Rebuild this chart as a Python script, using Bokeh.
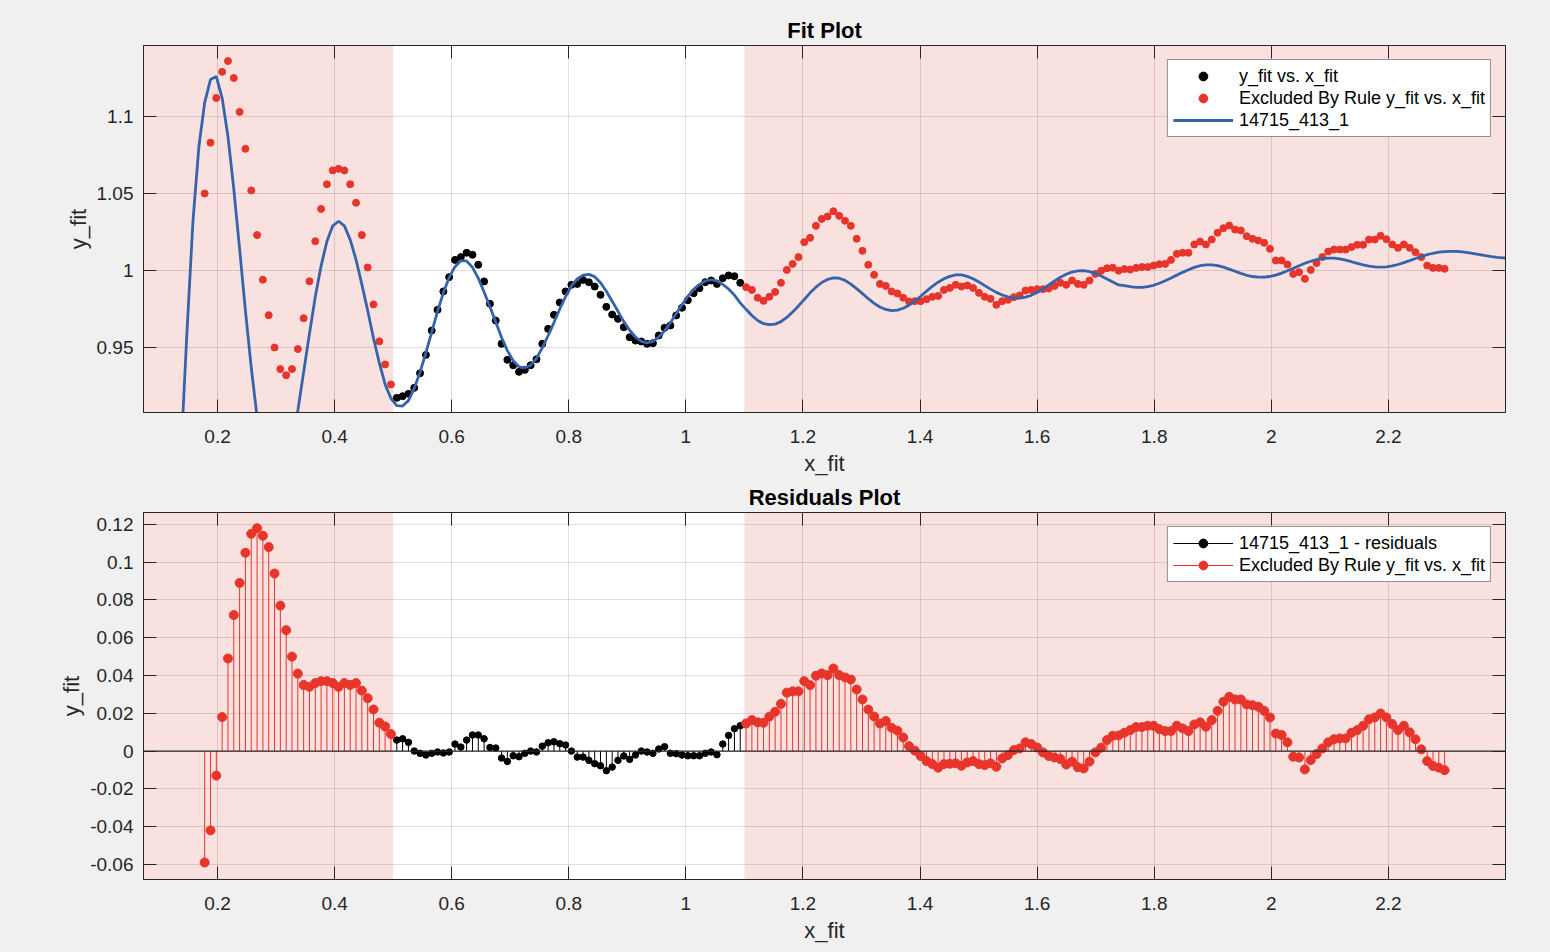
import numpy as np
from bokeh.plotting import figure
from bokeh.layouts import column
from bokeh.models import (Range1d, FixedTicker, LinearAxis, BoxAnnotation, Span,
                          Legend, LegendItem, CustomJSTickFormatter)
from bokeh.embed import file_html
from bokeh.resources import INLINE

# measured x positions (evenly sampled)
x_fit = np.linspace(0.178, 2.296, 214)

y_fit = [
    1.050, 1.083, 1.112, 1.129, 1.136, 1.125, 1.103, 1.079, 1.052, 1.023,
    0.994, 0.971, 0.950, 0.936, 0.932, 0.936, 0.949, 0.969, 0.993, 1.019,
    1.040, 1.056, 1.065, 1.066, 1.065, 1.056, 1.044, 1.023, 1.002, 0.978,
    0.954, 0.939, 0.926,
    0.9173, 0.9184, 0.9199, 0.9238, 0.9333, 0.9452, 0.9610, 0.9745, 0.9864, 0.9957,
    1.0069, 1.0087, 1.0115, 1.0102, 1.0037, 0.9929, 0.9784, 0.9675, 0.9524, 0.9420,
    0.9385, 0.9342, 0.9355, 0.9385, 0.9424, 0.9524, 0.9621, 0.9712, 0.9792, 0.9864,
    0.9907, 0.9913, 0.9939, 0.9924, 0.9896, 0.9842, 0.9764, 0.9714, 0.9686, 0.9632,
    0.9567, 0.9545, 0.9539, 0.9524, 0.9528, 0.9578, 0.9628, 0.9643, 0.9708, 0.9758,
    0.9807, 0.9853, 0.9885, 0.9924, 0.9935, 0.9913, 0.9950, 0.9968, 0.9963, 0.9920,
    0.9892, 0.9874, 0.9823, 0.9803, 0.9829, 0.9861, 0.9920, 1.0004, 1.0043, 1.0087,
    1.0184, 1.0212, 1.0290, 1.0335, 1.0351, 1.0385, 1.0355, 1.0323, 1.0290, 1.0206,
    1.0128, 1.0037, 0.9972, 0.9913, 0.9900, 0.9864, 0.9851, 0.9823, 0.9799, 0.9801,
    0.9801, 0.9814, 0.9829, 0.9835, 0.9874, 0.9887, 0.9907, 0.9896, 0.9903, 0.9887,
    0.9855, 0.9829, 0.9816, 0.9777, 0.9801, 0.9810, 0.9827, 0.9838, 0.9870, 0.9874,
    0.9879, 0.9879, 0.9883, 0.9900, 0.9920, 0.9907, 0.9935, 0.9913, 0.9907, 0.9935,
    0.9978, 0.9998, 1.0015, 1.0018, 0.9999,
    1.0009, 1.0006, 1.0017, 1.0022, 1.0022, 1.0032, 1.0041, 1.0043, 1.0069, 1.0108,
    1.0115, 1.0115, 1.0169, 1.0188, 1.0169, 1.0201, 1.0245, 1.0275, 1.0292, 1.0266,
    1.0260, 1.0223, 1.0206, 1.0195, 1.0180, 1.0141, 1.0065, 1.0065, 1.0039, 0.9978,
    0.9989, 0.9946, 1.0004, 1.0048, 1.0087, 1.0123, 1.0136, 1.0136, 1.0136, 1.0152,
    1.0167, 1.0167, 1.0201, 1.0201, 1.0225, 1.0203, 1.0169, 1.0147, 1.0169, 1.0147,
    1.0119, 1.0087, 1.0032, 1.0017, 1.0017, 1.0011,
]

residuals = [
    -0.059, -0.042, -0.013, 0.018, 0.049, 0.072, 0.089, 0.105, 0.115, 0.118,
    0.114, 0.108, 0.094, 0.077, 0.064, 0.050, 0.041, 0.035, 0.034, 0.036,
    0.037, 0.037, 0.036, 0.034, 0.036, 0.035, 0.036, 0.032, 0.028, 0.022,
    0.015, 0.013, 0.009,
    0.0058, 0.0065, 0.0046, 0.0000, -0.0012, -0.0021, -0.0012, -0.0005, -0.0010, -0.0005,
    0.0037, 0.0021, 0.0058, 0.0085, 0.0085, 0.0065, 0.0019, 0.0016, -0.0037, -0.0055,
    -0.0025, -0.0030, -0.0012, 0.0000, -0.0005, 0.0026, 0.0044, 0.0049, 0.0039, 0.0032,
    0.0000, -0.0032, -0.0032, -0.0049, -0.0067, -0.0078, -0.0104, -0.0085, -0.0049, -0.0026,
    -0.0044, -0.0021, 0.0000, -0.0005, -0.0012, 0.0011, 0.0023, -0.0012, -0.0014, -0.0021,
    -0.0025, -0.0025, -0.0025, -0.0012, -0.0005, -0.0019, 0.0037, 0.0083, 0.0118, 0.0134,
    0.0146, 0.0164, 0.0152, 0.0150, 0.0182, 0.0208, 0.0250, 0.0309, 0.0316, 0.0316,
    0.0370, 0.0349, 0.0399, 0.0411, 0.0402, 0.0437, 0.0402, 0.0390, 0.0379, 0.0326,
    0.0273, 0.0220, 0.0183, 0.0146, 0.0159, 0.0123, 0.0108, 0.0072, 0.0026, 0.0002,
    -0.0026, -0.0053, -0.0069, -0.0088, -0.0069, -0.0067, -0.0065, -0.0078, -0.0060, -0.0053,
    -0.0069, -0.0074, -0.0065, -0.0083, -0.0039, -0.0021, 0.0005, 0.0014, 0.0046, 0.0037,
    0.0019, -0.0007, -0.0026, -0.0034, -0.0042, -0.0071, -0.0056, -0.0086, -0.0092, -0.0056,
    -0.0007, 0.0018, 0.0058, 0.0081, 0.0083,
    0.0097, 0.0111, 0.0127, 0.0127, 0.0134, 0.0134, 0.0116, 0.0106, 0.0106, 0.0134,
    0.0120, 0.0106, 0.0141, 0.0152, 0.0129, 0.0164, 0.0213, 0.0261, 0.0287, 0.0273,
    0.0273, 0.0247, 0.0243, 0.0235, 0.0213, 0.0178, 0.0093, 0.0085, 0.0046, -0.0030,
    -0.0034, -0.0097, -0.0048, -0.0016, 0.0014, 0.0046, 0.0063, 0.0067, 0.0067, 0.0097,
    0.0111, 0.0134, 0.0168, 0.0178, 0.0199, 0.0178, 0.0143, 0.0111, 0.0134, 0.0099,
    0.0062, 0.0009, -0.0053, -0.0079, -0.0088, -0.0101,
]

# fitted curve 14715_413_1, at the measured x plus a little beyond both ends
fit_curve = [
    1.109, 1.124, 1.126, 1.112, 1.087, 1.053, 1.014, 0.974, 0.937, 0.905,
    0.880, 0.864, 0.856, 0.858, 0.869, 0.887, 0.909, 0.934, 0.959, 0.983,
    1.003, 1.019, 1.029, 1.032, 1.029, 1.020, 1.007, 0.991, 0.974, 0.956,
    0.940, 0.926, 0.917,
    0.9122, 0.9120, 0.9155, 0.9235, 0.9340, 0.9465, 0.9600, 0.9735, 0.9855, 0.9955,
    1.0025, 1.0063, 1.0062, 1.0020, 0.9950, 0.9860, 0.9765, 0.9665, 0.9565, 0.9480,
    0.9415, 0.9375, 0.9368, 0.9385, 0.9430, 0.9498, 0.9578, 0.9662, 0.9750, 0.9830,
    0.9900, 0.9945, 0.9970, 0.9975, 0.9960, 0.9920, 0.9865, 0.9800, 0.9735, 0.9668,
    0.9612, 0.9568, 0.9540, 0.9530, 0.9540, 0.9567, 0.9608, 0.9660, 0.9720, 0.9778,
    0.9832, 0.9878, 0.9910, 0.9932, 0.9940, 0.9932, 0.9910, 0.9880, 0.9840, 0.9790,
    0.9748, 0.9708, 0.9675, 0.9655, 0.9648, 0.9652, 0.9668, 0.9695, 0.9730, 0.9770,
    0.9812, 0.9855, 0.9892, 0.9922, 0.9942, 0.9952, 0.9950, 0.9936, 0.9912, 0.9882,
    0.9850, 0.9817, 0.9787, 0.9763, 0.9747, 0.9740, 0.9743, 0.9755, 0.9775, 0.9802,
    0.9833, 0.9866, 0.9897, 0.9924, 0.9946, 0.9962, 0.9971, 0.9971, 0.9962, 0.9946,
    0.9925, 0.9902, 0.9879, 0.9858, 0.9841, 0.9829, 0.9822, 0.9821, 0.9827, 0.9839,
    0.9857, 0.9880, 0.9906, 0.9932, 0.9956, 0.9976, 0.9990, 0.9998, 0.9999, 0.9993,
    0.9981, 0.9964, 0.9945, 0.9925, 0.9906,
    0.9902, 0.9895, 0.9891, 0.9891, 0.9895, 0.9904, 0.9917, 0.9933, 0.9951, 0.9970,
    0.9988, 1.0005, 1.0020, 1.0031, 1.0037, 1.0037, 1.0032, 1.0022, 1.0009, 0.9995,
    0.9981, 0.9969, 0.9961, 0.9957, 0.9957, 0.9961, 0.9970, 0.9983, 0.9998, 1.0014,
    1.0031, 1.0047, 1.0060, 1.0071, 1.0078, 1.0081, 1.0080, 1.0075, 1.0067, 1.0057,
    1.0046, 1.0036, 1.0028, 1.0023, 1.0022, 1.0024, 1.0030, 1.0039, 1.0051, 1.0064,
    1.0078, 1.0091, 1.0103, 1.0112, 1.0119, 1.0122,
]
x_lead = [0.128, 0.138, 0.148, 0.158, 0.168]
fit_lead = [0.800, 0.885, 0.962, 1.032, 1.080]
x_tail = [2.306, 2.316, 2.326, 2.336, 2.346, 2.356, 2.366, 2.376, 2.386, 2.396, 2.406]
fit_tail = [1.0124, 1.0124, 1.0121, 1.0116, 1.0110, 1.0103, 1.0096, 1.0090, 1.0085, 1.0082, 1.0080]

# points outside [0.5, 1.1] are excluded by rule
excl_lo, excl_hi = 0.5, 1.1

x_ticks = [0.2, 0.4, 0.6, 0.8, 1.0, 1.2, 1.4, 1.6, 1.8, 2.0, 2.2]
x_tick_labels = ["0.2", "0.4", "0.6", "0.8", "1", "1.2", "1.4", "1.6", "1.8", "2", "2.2"]
fit_y_ticks = [0.95, 1.0, 1.05, 1.1]
fit_y_labels = ["0.95", "1", "1.05", "1.1"]
res_y_ticks = [-0.06, -0.04, -0.02, 0.0, 0.02, 0.04, 0.06, 0.08, 0.1, 0.12]
res_y_labels = ["-0.06", "-0.04", "-0.02", "0", "0.02", "0.04", "0.06", "0.08", "0.1", "0.12"]

FONT = "Liberation Sans"
INK = "#262626"
RED = "#e8352b"
BLUE = "#3564aa"
PINK = "#f9e1e0"
GRAY = "#f0f0f0"


def make_fig(title, y_lim, y_ticks, y_labels, top_border, bottom_border):
    p = figure(frame_width=1362, frame_height=367,
               x_range=Range1d(0.0735, 2.40), y_range=Range1d(*y_lim),
               output_backend="svg", toolbar_location=None,
               min_border_left=143, min_border_right=40,
               min_border_top=top_border, min_border_bottom=bottom_border,
               background_fill_color="white", border_fill_color=GRAY,
               outline_line_color=INK, title=title,
               x_axis_label="x_fit", y_axis_label="y_fit")
    p.title.text_font = FONT
    p.title.text_font_size = "22px"
    p.title.text_font_style = "bold"
    p.title.text_color = "black"
    p.title.align = "center"
    p.title.standoff = 5

    xt = FixedTicker(ticks=x_ticks)
    yt = FixedTicker(ticks=y_ticks)
    p.xaxis.ticker = xt
    p.yaxis.ticker = yt
    p.xaxis.major_label_overrides = dict(zip(x_ticks, x_tick_labels))
    p.yaxis.major_label_overrides = dict(zip(y_ticks, y_labels))
    p.xaxis.major_label_standoff = 17
    p.xaxis.axis_label_standoff = 5
    p.yaxis.major_label_standoff = 10
    p.yaxis.axis_label_standoff = 3

    # box ticks on top and right
    blank = CustomJSTickFormatter(code="return ''")
    p.add_layout(LinearAxis(ticker=xt, formatter=blank, major_label_standoff=0), "above")
    p.add_layout(LinearAxis(ticker=yt, formatter=blank, major_label_standoff=0), "right")

    for ax in p.xaxis + p.yaxis:
        ax.major_tick_in = 13
        ax.major_tick_out = 0
        ax.minor_tick_line_color = None
        ax.major_tick_line_color = INK
        ax.axis_line_color = INK
        ax.major_label_text_font = FONT
        ax.major_label_text_font_size = "19px"
        ax.major_label_text_color = INK
        ax.axis_label_text_font = FONT
        ax.axis_label_text_font_size = "22px"
        ax.axis_label_text_font_style = "normal"
        ax.axis_label_text_color = INK

    p.xgrid.ticker = xt
    p.ygrid.ticker = yt
    p.grid.grid_line_color = INK
    p.grid.grid_line_alpha = 0.15

    p.add_layout(BoxAnnotation(right=excl_lo, fill_color=PINK, fill_alpha=1,
                               line_color=None, level="image"))
    p.add_layout(BoxAnnotation(left=excl_hi, fill_color=PINK, fill_alpha=1,
                               line_color=None, level="image"))
    return p


def style_legend(leg):
    leg.location = "top_right"
    leg.margin = 14
    leg.padding = 5
    leg.spacing = 0
    leg.glyph_width = 60
    leg.glyph_height = 22
    leg.label_height = 22
    leg.label_standoff = 6
    leg.label_text_font = FONT
    leg.label_text_font_size = "18px"
    leg.label_text_color = "black"
    leg.border_line_color = INK
    leg.background_fill_color = "white"
    leg.background_fill_alpha = 1


x = list(x_fit)
inc = [i for i, xv in enumerate(x) if excl_lo <= xv <= excl_hi]
exc = [i for i, xv in enumerate(x) if not (excl_lo <= xv <= excl_hi)]

# ---- Fit plot
p1 = make_fig("Fit Plot", (0.9078, 1.1461), fit_y_ticks, fit_y_labels, 45, 68)
r_inc = p1.scatter([x[i] for i in inc], [y_fit[i] for i in inc], size=7,
                   color="black")
r_exc = p1.scatter([x[i] for i in exc], [y_fit[i] for i in exc], size=7,
                   color=RED)
r_fit = p1.line(x_lead + x + x_tail, fit_lead + fit_curve + fit_tail,
                line_width=2.8, color=BLUE)
leg1 = Legend(items=[LegendItem(label="y_fit vs. x_fit", renderers=[r_inc]),
                     LegendItem(label="Excluded By Rule y_fit vs. x_fit", renderers=[r_exc]),
                     LegendItem(label="14715_413_1", renderers=[r_fit])])
style_legend(leg1)
p1.add_layout(leg1)

# ---- Residuals plot
p2 = make_fig("Residuals Plot", (-0.0680, 0.1263), res_y_ticks, res_y_labels, 32, 66)
p2.add_layout(Span(location=0, dimension="width", line_color=INK, line_width=1.2))
s_inc = p2.segment([x[i] for i in inc], 0, [x[i] for i in inc],
                   [residuals[i] for i in inc], line_color="black", line_width=1)
d_inc = p2.scatter([x[i] for i in inc], [residuals[i] for i in inc], size=6.5,
                   color="black")
s_exc = p2.segment([x[i] for i in exc], 0, [x[i] for i in exc],
                   [residuals[i] for i in exc], line_color=RED, line_width=1)
d_exc = p2.scatter([x[i] for i in exc], [residuals[i] for i in exc], size=9,
                   color=RED)
leg2 = Legend(items=[LegendItem(label="14715_413_1 - residuals", renderers=[s_inc, d_inc]),
                     LegendItem(label="Excluded By Rule y_fit vs. x_fit", renderers=[s_exc, d_exc])])
style_legend(leg2)
p2.add_layout(leg2)

layout = column(p1, p2)

page_template = """
{% block postamble %}
<style>body { background-color: #f0f0f0; }</style>
{% endblock %}
"""
open("out.html", "w").write(file_html(layout, INLINE, title="Fit Plot", template=page_template))
